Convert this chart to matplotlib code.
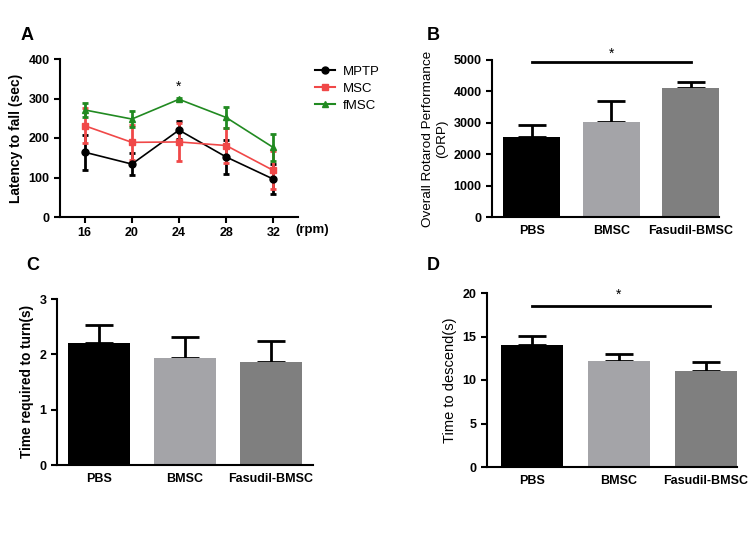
import matplotlib
matplotlib.use("Agg")
import matplotlib.pyplot as plt
from matplotlib.lines import Line2D

plt.rcParams['font.family'] = ['Liberation Sans', 'DejaVu Sans']

# panel A data
rpm = [16, 20, 24, 28, 32]
mptp = [164, 134, 220, 152, 96]
mptp_err = [44, 27, 23, 44, 37]
msc = [231, 189, 190, 181, 118]
msc_err = [44, 45, 49, 45, 48]
fmsc = [271, 248, 298, 252, 176]
fmsc_err = [17, 21, 3, 26, 35]

groups = ["PBS", "BMSC", "Fasudil-BMSC"]
bar_colors = ["#000000", "#a4a4a8", "#7f7f7f"]

orp = [2540, 3020, 4100]
orp_err = [375, 667, 190]

turn = [2.21, 1.94, 1.87]
turn_err = [0.32, 0.38, 0.37]

descend = [14.06, 12.2, 11.07]
descend_err = [0.95, 0.8, 1.05]

W, H = 752, 535
fig = plt.figure(figsize=(W / 100, H / 100), dpi=100)


def box(x0, y0, x1, y1):
    # pixel box -> figure fraction
    return [x0 / W, 1 - y1 / H, (x1 - x0) / W, (y1 - y0) / H]


def style(ax):
    for s in ["top", "right"]:
        ax.spines[s].set_visible(False)
    for s in ["left", "bottom"]:
        ax.spines[s].set_linewidth(1.5)
    ax.tick_params(width=1.5, length=4, labelsize=9)
    for lab in ax.get_xticklabels() + ax.get_yticklabels():
        lab.set_fontweight("bold")


def bars(ax, vals, errs, xlim, ylim, yticks):
    x = range(len(vals))
    ax.bar(x, vals, width=0.72, color=bar_colors, zorder=2)
    ax.errorbar(x, vals, yerr=[[0] * len(vals), errs], fmt="none",
                ecolor="black", elinewidth=2, capsize=10, capthick=2, zorder=1)
    ax.set_xlim(*xlim)
    ax.set_ylim(*ylim)
    ax.set_yticks(yticks)
    ax.set_xticks(list(x))
    ax.set_xticklabels(groups)
    style(ax)
    ax.tick_params(axis="x", length=0, pad=6)


def panel(x, y, s):
    fig.text(x / W, 1 - y / H, s, fontsize=13, fontweight="bold",
             ha="center", va="center")


# A
axA = fig.add_axes(box(60, 59, 298, 217))
series = [(mptp, mptp_err, "black", "o", "MPTP"),
          (msc, msc_err, "#f04848", "s", "MSC"),
          (fmsc, fmsc_err, "#218a21", "^", "fMSC")]
handles = []
for vals, errs, col, mk, name in series:
    axA.errorbar(rpm, vals, yerr=errs, color=col, marker=mk, ms=5,
                 lw=1.2, elinewidth=2, capsize=2.5, capthick=2)
    handles.append(Line2D([], [], color=col, marker=mk, ms=5, lw=1.5, label=name))
axA.set_xlim(13.9, 34.1)
axA.set_ylim(0, 400)
axA.set_xticks(rpm)
axA.set_yticks([0, 100, 200, 300, 400])
axA.set_ylabel("Latency to fall (sec)", fontsize=10, fontweight="bold")
axA.text(24, 312, "*", ha="center", va="bottom", fontsize=10)
style(axA)
fig.legend(handles=handles, loc="upper left", bbox_to_anchor=(303 / W, 1 - 54 / H),
           frameon=False, fontsize=9.5, handlelength=1.5, labelspacing=0.35,
           handletextpad=0.6)
fig.text(295 / W, 1 - 230 / H, "(rpm)", ha="left", va="center", fontsize=9.5,
         fontweight="bold")
panel(27, 35, "A")

# B
axB = fig.add_axes(box(492, 60, 719, 217))
bars(axB, orp, orp_err, (-0.5, 2.35), (0, 5000), [0, 1000, 2000, 3000, 4000, 5000])
axB.set_ylabel("Overall Rotarod Performance\n(ORP)", fontsize=9.7)
axB.plot([0, 2], [4930, 4930], color="black", lw=2, clip_on=False)
axB.text(1.0, 4980, "*", ha="center", va="bottom", fontsize=10)
panel(433, 36, "B")

# C
axC = fig.add_axes(box(57, 299, 313, 465))
bars(axC, turn, turn_err, (-0.49, 2.49), (0, 3), [0, 1, 2, 3])
axC.set_ylabel("Time required to turn(s)", fontsize=9.8, fontweight="bold")
panel(33, 266, "C")

# D
axD = fig.add_axes(box(487, 293, 737, 467))
bars(axD, descend, descend_err, (-0.52, 2.36), (0, 20), [0, 5, 10, 15, 20])
axD.set_ylabel("Time to descend(s)", fontsize=10.5)
axD.plot([0, 2.05], [18.5, 18.5], color="black", lw=2)
axD.text(1.0, 19.0, "*", ha="center", va="bottom", fontsize=10)
panel(433, 266, "D")

fig.savefig("out.png", dpi=100)
